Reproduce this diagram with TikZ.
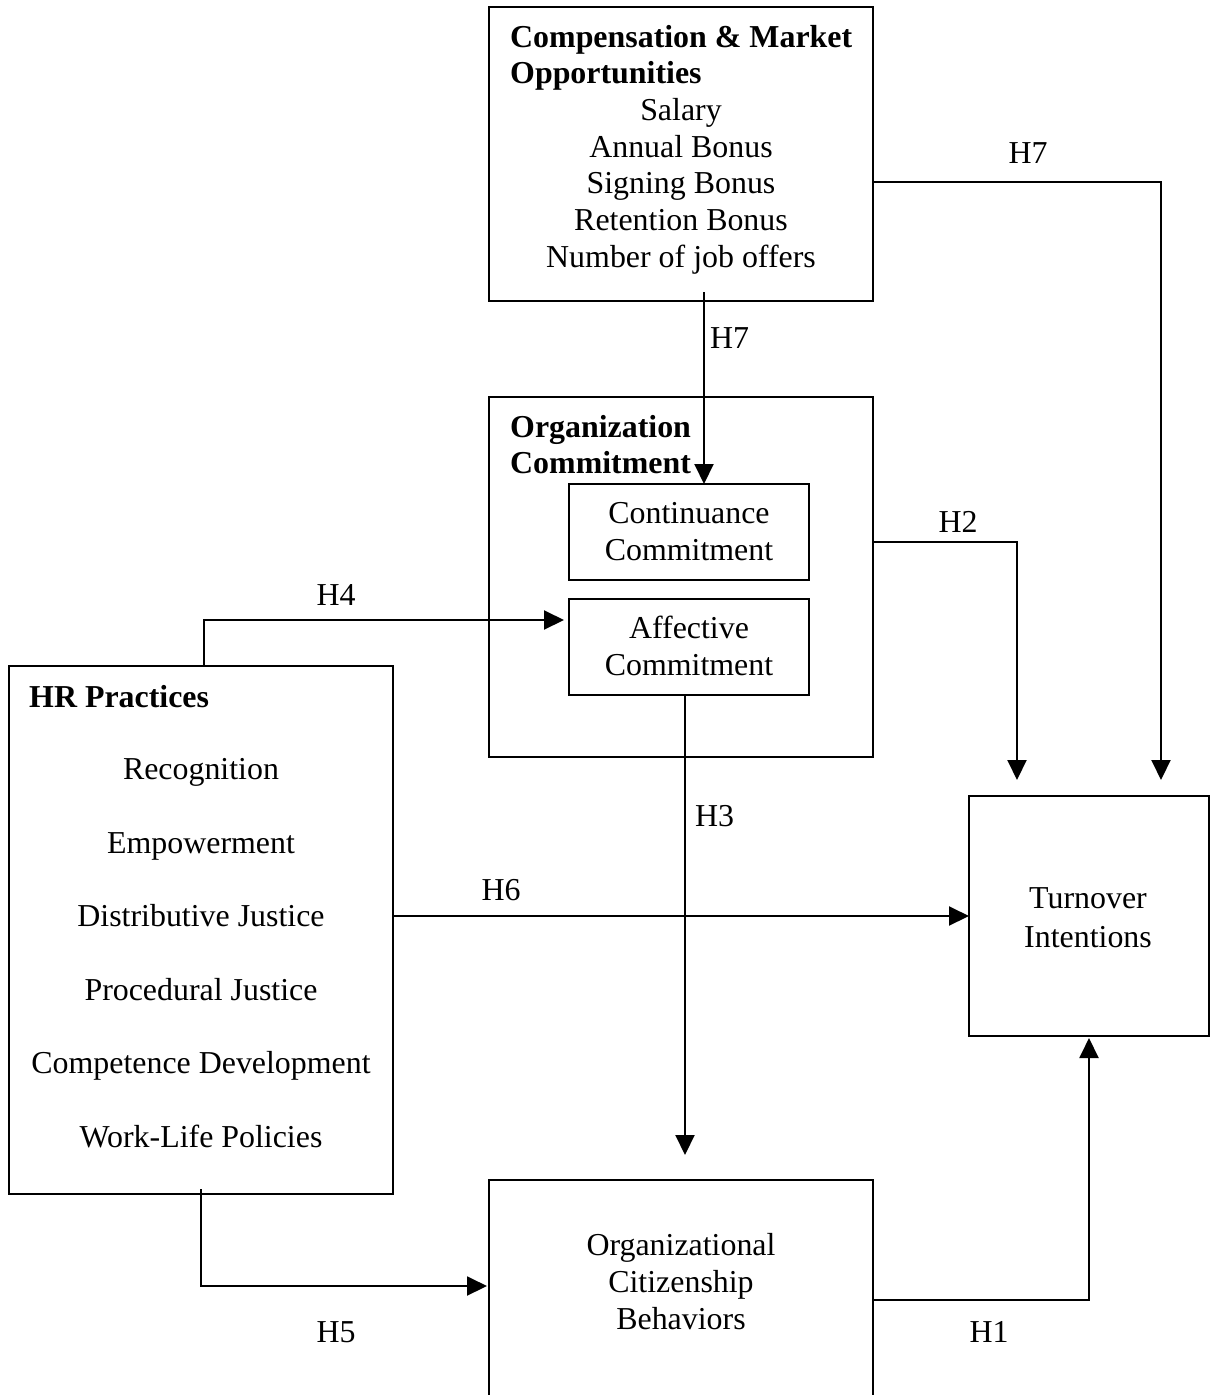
\documentclass[tikz,border=0pt]{standalone}
\usepackage{fontspec}
\setmainfont{Liberation Serif}
\usetikzlibrary{arrows.meta}
\begin{document}
\begin{tikzpicture}[x=1pt,y=-1pt,
  box/.style={draw,line width=2pt,inner sep=0pt,outer sep=0pt},
  txt/.style={inner sep=0pt,anchor=base,font=\fontsize{31.9}{37}\selectfont},
  ltxt/.style={txt,anchor=base west,font=\fontsize{31.9}{37}\selectfont\bfseries},
  arr/.style={line width=2pt,-{Triangle[length=20pt,width=19pt]}}]
\useasboundingbox (0,0) rectangle (1211,1395);
\clip (0,0) rectangle (1211,1395);
% boxes
\node[box,minimum width=384pt,minimum height=294pt] (comp) at (681,154) {};
\node[box,minimum width=384pt,minimum height=360pt] (org) at (681,577) {};
\node[box,minimum width=240pt,minimum height=96pt] (cont) at (689,532) {};
\node[box,minimum width=240pt,minimum height=96pt] (aff) at (689,647) {};
\node[box,minimum width=384pt,minimum height=528pt] (hr) at (201,930) {};
\node[box,minimum width=240pt,minimum height=240pt] (turn) at (1089,916) {};
\node[box,minimum width=384pt,minimum height=240pt] (ocb) at (681,1300) {};
% compensation texts
\node[ltxt] (compt1) at (510,47) {Compensation \& Market};
\node[ltxt] (compt2) at (510,83) {Opportunities};
\node[txt] (comp1) at (681,120) {Salary};
\node[txt] (comp2) at (681,157) {Annual Bonus};
\node[txt] (comp3) at (681,193) {Signing Bonus};
\node[txt] (comp4) at (681,230) {Retention Bonus};
\node[txt] (comp5) at (681,267) {Number of job offers};
% organization commitment
\node[ltxt] (orgt1) at (510,437) {Organization};
\node[ltxt] (orgt2) at (510,473) {Commitment};
\node[txt] (cont1) at (689,523) {Continuance};
\node[txt] (cont2) at (689,560) {Commitment};
\node[txt] (aff1) at (689,638) {Affective};
\node[txt] (aff2) at (689,675) {Commitment};
% HR practices
\node[ltxt] (hrt) at (29,707) {HR Practices};
\node[txt] (hr1) at (201,779) {Recognition};
\node[txt] (hr2) at (201,853) {Empowerment};
\node[txt] (hr3) at (201,926) {Distributive Justice};
\node[txt] (hr4) at (201,1000) {Procedural Justice};
\node[txt] (hr5) at (201,1073) {Competence Development};
\node[txt] (hr6) at (201,1147) {Work-Life Policies};
% turnover
\node[txt] (turn1) at (1088,908) {Turnover};
\node[txt] (turn2) at (1088,947) {Intentions};
% OCB
\node[txt] (ocb1) at (681,1255) {Organizational};
\node[txt] (ocb2) at (681,1292) {Citizenship};
\node[txt] (ocb3) at (681,1329) {Behaviors};
% connectors
\draw[arr] ([xshift=23pt,yshift=9pt]comp.south) coordinate (h7s) -- (h7s |- cont.north);
\draw[arr] ([yshift=-28pt]comp.east) -| ([xshift=72pt,yshift=16pt]turn.north);
\draw[arr] ([yshift=35pt]org.east) -| ([xshift=-72pt,yshift=16pt]turn.north);
\draw[arr] ([xshift=3pt]hr.north) |- ([xshift=-5pt,yshift=27pt]aff.west);
\path ([yshift=25pt]ocb.north) coordinate (ocbtop);
\draw[arr] ([xshift=-4pt]aff.south) coordinate (h3s) -- (h3s |- ocbtop);
\draw[arr] ([yshift=14pt]hr.east) -- (turn.west);
\draw[arr] ([yshift=5pt]hr.south) |- ([xshift=-2pt,yshift=14pt]ocb.west);
\draw[arr] (ocb.east) -| ([yshift=-2pt]turn.south);
% labels
\node[txt] (lh7a) at (1028,163) {H7};
\node[txt,anchor=base west] (lh7b) at (710,348) {H7};
\node[txt] (lh2) at (958,532) {H2};
\node[txt] (lh4) at (336,605) {H4};
\node[txt,anchor=base west] (lh3) at (695,826) {H3};
\node[txt] (lh6) at (501,900) {H6};
\node[txt] (lh5) at (336,1342) {H5};
\node[txt] (lh1) at (989,1342) {H1};
\end{tikzpicture}
\end{document}
